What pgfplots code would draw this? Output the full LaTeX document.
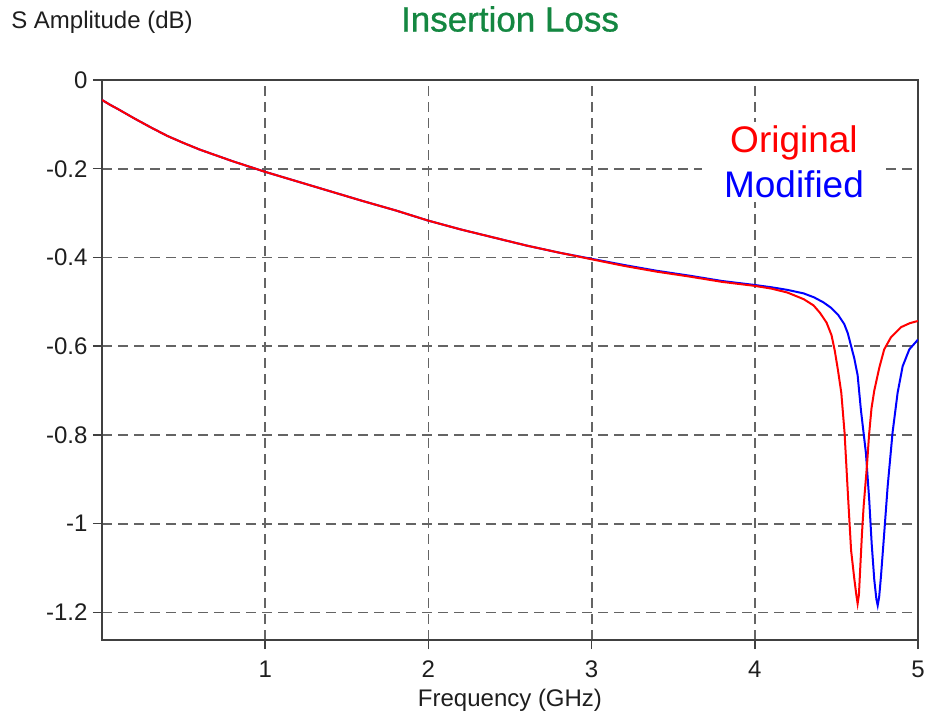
\documentclass[border=0pt]{standalone}
\usepackage{pgfplots}
\pgfplotsset{compat=1.18}
\usepackage{fontspec}
\setmainfont{Liberation Sans}
\newfontfamily\titlefont[FakeBold=0.8]{Liberation Sans}
\definecolor{axisgray}{RGB}{64,64,64}
\definecolor{gridgray}{RGB}{100,100,100}
\definecolor{titlegreen}{RGB}{20,135,65}
\definecolor{txt}{RGB}{30,30,30}
\begin{document}
\begin{tikzpicture}
\path[use as bounding box] (0,0) rectangle (928pt,717pt);
\begin{axis}[
  at={(102pt,77pt)}, anchor=south west,
  scale only axis, width=816pt, height=560pt,
  xmin=0, xmax=5, ymin=-1.262, ymax=0,
  xtick={1,2,3,4,5}, xticklabels={1,2,3,4,5},
  ytick={-1.2,-1,-0.8,-0.6,-0.4,-0.2,0},
  yticklabels={-1.2,-1,-0.8,-0.6,-0.4,-0.2,0},
  xtick pos=bottom, ytick pos=left,
  tick align=outside, major tick length=9pt,
  every tick/.style={axisgray, line width=1.5pt},
  axis line style={axisgray, line width=2pt},
  grid=major,
  major grid style={gridgray, line width=1.8pt, dash pattern=on 10pt off 6pt},
  tick label style={font=\fontsize{24}{26}\selectfont, text=txt},
  xticklabel style={yshift=-8pt},
  yticklabel style={xshift=-2pt},
  xlabel={Frequency (GHz)},
  xlabel style={font=\fontsize{24}{26}\selectfont, text=txt, at={(axis description cs:0.5,0)}, anchor=center, yshift=-60pt},
  ylabel={S Amplitude (dB)},
  ylabel style={font=\fontsize{24}{26}\selectfont, text=txt, rotate=-90, at={(axis description cs:0,1)}, anchor=center, yshift=58pt},
  title={Insertion Loss},
  title style={font=\titlefont\fontsize{35}{38}\selectfont, text=titlegreen, at={(axis description cs:0.5,1)}, anchor=center, yshift=55pt},
  clip=true,
]
\addplot[blue, line width=2pt] coordinates {
(0,-0.045) (0.05,-0.056) (0.1,-0.066) (0.2,-0.087) (0.3,-0.107) (0.4,-0.126) (0.5,-0.142) (0.6,-0.157) (0.7,-0.170) (0.8,-0.183) (0.9,-0.195) (1.0,-0.207) (1.2,-0.229) (1.4,-0.251) (1.6,-0.273) (1.8,-0.294) (2.0,-0.317) (2.2,-0.337) (2.4,-0.355) (2.6,-0.373) (2.8,-0.389) (3.0,-0.403) (3.2,-0.417) (3.4,-0.430) (3.6,-0.441) (3.8,-0.453) (4.0,-0.462)
(4.1,-0.467) (4.2,-0.473) (4.3,-0.481) (4.364,-0.490) (4.42,-0.501) (4.466,-0.513) (4.51,-0.529) (4.548,-0.550) (4.57,-0.571) (4.589,-0.598) (4.61,-0.628) (4.630,-0.665) (4.650,-0.743) (4.681,-0.841) (4.701,-0.946) (4.716,-1.044) (4.732,-1.126) (4.745,-1.170) (4.753,-1.184) (4.762,-1.165) (4.773,-1.119) (4.793,-1.021) (4.814,-0.916) (4.844,-0.795) (4.875,-0.705) (4.906,-0.645) (4.947,-0.607) (5.0,-0.585)
};
\addplot[red, line width=2pt] coordinates {
(0,-0.045) (0.05,-0.056) (0.1,-0.066) (0.2,-0.087) (0.3,-0.107) (0.4,-0.126) (0.5,-0.142) (0.6,-0.157) (0.7,-0.170) (0.8,-0.183) (0.9,-0.195) (1.0,-0.207) (1.2,-0.229) (1.4,-0.251) (1.6,-0.273) (1.8,-0.294) (2.0,-0.317) (2.2,-0.337) (2.4,-0.355) (2.6,-0.373) (2.8,-0.389) (3.0,-0.404) (3.2,-0.419) (3.4,-0.432) (3.6,-0.443) (3.8,-0.455) (4.0,-0.464)
(4.1,-0.470) (4.2,-0.479) (4.3,-0.494) (4.36,-0.508) (4.4,-0.525) (4.44,-0.547) (4.47,-0.575) (4.49,-0.610) (4.51,-0.655) (4.53,-0.705) (4.55,-0.795) (4.57,-0.930) (4.59,-1.060) (4.61,-1.125) (4.622,-1.160) (4.630,-1.180) (4.638,-1.160) (4.646,-1.100) (4.657,-1.020) (4.667,-0.960) (4.687,-0.870) (4.700,-0.800) (4.715,-0.740) (4.732,-0.700) (4.763,-0.648) (4.793,-0.607) (4.834,-0.580) (4.896,-0.557) (4.95,-0.548) (5.0,-0.543)
};
\node[fill=white, align=center, minimum width=183pt, inner xsep=0pt, inner ysep=4pt,
      font=\fontsize{37}{45}\selectfont] at (axis cs:4.24,-0.185)
  {\textcolor{red}{Original}\\\textcolor{blue}{Modified}};
\end{axis}
\end{tikzpicture}
\end{document}
